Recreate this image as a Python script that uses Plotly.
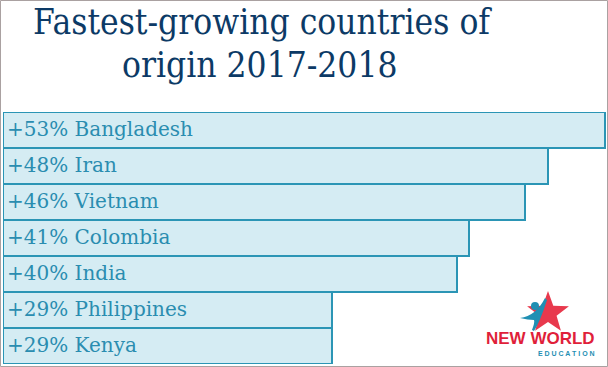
import plotly.graph_objects as go
import math

countries = ["Bangladesh", "Iran", "Vietnam", "Colombia", "India", "Philippines", "Kenya"]
growth = [53, 48, 46, 41, 40, 29, 29]
labels = [f"+{g}% {c}" for g, c in zip(growth, countries)]

W, H = 608, 367
ML, MR, MT, MB = 3, 2, 112, 3
PW, PH = W - ML - MR, H - MT - MB

def px(x):
    return (x - ML) / PW

def py(y):
    return (H - MB - y) / PH

fig = go.Figure()
fig.add_trace(go.Bar(
    x=growth, y=countries, orientation="h",
    marker=dict(color="#d5ecf3", line=dict(color="#2b95b5", width=2)),
    hoverinfo="skip",
))

annotations = []
for c, lab in zip(countries, labels):
    annotations.append(dict(
        x=0, y=c, xref="x", yref="y", text=lab, showarrow=False,
        xanchor="left", yanchor="middle", xshift=2, yshift=1,
        font=dict(family="DejaVu Serif", size=20, color="#2a8db0"),
    ))

annotations.append(dict(
    x=px(262), y=py(22), xref="paper", yref="paper",
    text="Fastest-growing countries of", showarrow=False,
    xanchor="center", yanchor="middle",
    font=dict(family="DejaVu Serif Condensed, DejaVu Serif", size=35, color="#0c3a66"),
))
annotations.append(dict(
    x=px(259), y=py(65), xref="paper", yref="paper",
    text="origin 2017-2018", showarrow=False,
    xanchor="center", yanchor="middle",
    font=dict(family="DejaVu Serif Condensed, DejaVu Serif", size=35, color="#0c3a66"),
))
annotations.append(dict(
    x=px(540), y=py(338), xref="paper", yref="paper",
    text="<b>NEW WORLD</b>", showarrow=False,
    xanchor="center", yanchor="middle",
    font=dict(family="Liberation Sans Narrow, Liberation Sans", size=17, color="#e01f3a"),
))
annotations.append(dict(
    x=px(566), y=py(353), xref="paper", yref="paper",
    text="<b>E D U C A T I O N</b>", showarrow=False,
    xanchor="center", yanchor="middle",
    font=dict(family="Liberation Sans", size=7, color="#1f8fb3"),
))

shapes = []
cx, cy, R, r = 548, 313, 22, 9
pts = []
for i in range(10):
    ang = -math.pi / 2 + i * math.pi / 5
    rad = R if i % 2 == 0 else r
    pts.append((px(cx + rad * math.cos(ang)), py(cy + rad * math.sin(ang))))
path = "M " + " L ".join(f"{a},{b}" for a, b in pts) + " Z"
shapes.append(dict(type="path", path=path, xref="paper", yref="paper",
                   fillcolor="#e8394d", line=dict(width=0), layer="above"))
shapes.append(dict(type="circle", xref="paper", yref="paper",
                   x0=px(531), x1=px(539), y0=py(310), y1=py(302),
                   fillcolor="#1f8fb3", line=dict(width=0), layer="above"))
shapes.append(dict(type="path", xref="paper", yref="paper",
                   path=f"M {px(520)},{py(318)} Q {px(536)},{py(316)} {px(545)},{py(298)} L {px(547)},{py(300)} Q {px(540)},{py(322)} {px(534)},{py(331)} L {px(532)},{py(330)} Q {px(535)},{py(322)} {px(534)},{py(320)} Q {px(528)},{py(320)} {px(520)},{py(318)} Z",
                   fillcolor="#1f8fb3", line=dict(width=0), layer="above"))
shapes.append(dict(type="rect", xref="paper", yref="paper",
                   x0=px(0.5), x1=px(607.5), y0=py(366.5), y1=py(0.5),
                   line=dict(color="#aaa1a1", width=1), fillcolor="rgba(0,0,0,0)", layer="above"))

fig.update_layout(
    width=W, height=H,
    margin=dict(l=ML, r=MR, t=MT, b=MB),
    paper_bgcolor="white", plot_bgcolor="white",
    bargap=0, showlegend=False,
    xaxis=dict(range=[0, 53.1], visible=False, fixedrange=True),
    yaxis=dict(autorange="reversed", visible=False, fixedrange=True),
    annotations=annotations, shapes=shapes,
)

fig.write_html("out.html", config={"displayModeBar": False},
               post_script="document.body.style.margin='0';document.body.style.overflow='hidden';")
